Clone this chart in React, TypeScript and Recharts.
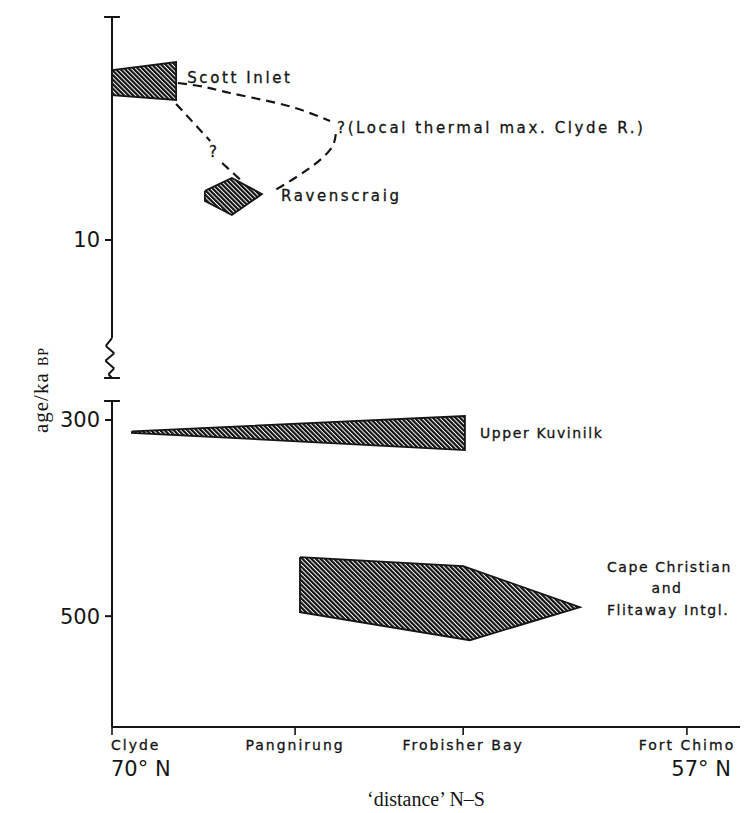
import React from "react";
import {
  ComposedChart,
  Label,
  ReferenceDot,
  ReferenceLine,
  Scatter,
  XAxis,
  YAxis,
} from "recharts";

interface Pt {
  readonly lat: number;
  readonly ka: number;
}

const pt = (lat: number, ka: number): Pt => ({ lat, ka });

const W = 755;
const H = 813;
const INK = "#151515";
const SANS = '"DejaVu Sans", "Liberation Sans", sans-serif';
const SERIF = '"Liberation Serif", "DejaVu Serif", serif';

// x: latitude along the N–S transect (°N), drawn reversed (north on the left)
const latDomain: [number, number] = [55.8, 70];
const stationLats = [70, 65.86, 62.06, 57];
const stationNames = ["Clyde", "Pangnirung", "Frobisher Bay", "Fort Chimo"];
const stationDegrees = ["70° N", "", "", "57° N"];

// y: broken age axis, two windows (ka BP)
const youngDomain: [number, number] = [0, 16.19];
const youngTicks = [10];
const oldDomain: [number, number] = [280.6, 613];
const oldTicks = [300, 500];

// hatched age ranges, closed outlines
const scottInlet = [pt(70, 2.38), pt(68.55, 2.02), pt(68.55, 3.72), pt(70, 3.5), pt(70, 2.38)];
const ravenscraig = [
  pt(67.9, 7.8), pt(67.29, 7.22), pt(66.61, 7.94), pt(67.29, 8.88), pt(67.9, 8.25), pt(67.9, 7.8),
];
const upperKuvinilk = [pt(69.55, 311.5), pt(62.02, 295.9), pt(62.02, 330.6), pt(69.55, 313.0), pt(69.55, 311.5)];
const capeChristian = [
  pt(65.75, 439.8), pt(62.06, 449), pt(59.42, 490.8), pt(61.91, 524.5), pt(65.75, 495.9), pt(65.75, 439.8),
];

// dashed (uncertain) correlations
const thermalMaxUpper = [pt(68.51, 2.96), pt(67.9, 3.14), pt(67.33, 3.41), pt(66.27, 3.86), pt(65.59, 4.26), pt(65.07, 4.66)];
const thermalMaxLower = [pt(64.94, 5.25), pt(65.07, 5.96), pt(65.59, 6.86), pt(66.31, 7.76)];
const scottToRavenA = [pt(68.55, 3.9), pt(67.78, 5.56)];
const scottToRavenB = [pt(67.51, 6.55), pt(67.04, 7.4)];

// axis break
const youngAxisRun = [pt(70, 0), pt(70, 14.4)];
const breakZigzag = [
  pt(70, 14.4), pt(70.14, 14.75), pt(69.95, 15.08), pt(70.15, 15.42), pt(69.95, 15.76), pt(70.08, 16.02), pt(70, 16.19),
];
const capHalfWidth = 0.18;

const upperNotes = [
  { lat: 68.3, ka: 2.74, text: "Scott Inlet", anchor: "start" },
  { lat: 67.69, ka: 6.05, text: "?", anchor: "middle" },
  { lat: 64.91, ka: 4.98, text: "?(Local thermal max. Clyde R.)", anchor: "start" },
  { lat: 66.18, ka: 8.03, text: "Ravenscraig", anchor: "start" },
];
const lowerNotes = [
  { lat: 61.68, ka: 313.3, text: "Upper Kuvinilk", anchor: "start" },
  { lat: 58.81, ka: 450.0, text: "Cape Christian", anchor: "start" },
  { lat: 57.45, ka: 471.4, text: "and", anchor: "middle" },
  { lat: 58.81, ka: 493.9, text: "Flitaway Intgl.", anchor: "start" },
];

const NoMark = () => <g />;

function noteShape(text: string, anchor: string, size: number, spacing: number) {
  return (props: { cx?: number; cy?: number }) => (
    <text
      x={props.cx}
      y={props.cy}
      dy="0.36em"
      textAnchor={anchor}
      fontFamily={SANS}
      fontSize={size}
      letterSpacing={spacing}
      fill={INK}
      stroke={INK}
      strokeWidth={0.3}
    >
      {text}
    </text>
  );
}

function StationTick(props: { x?: number; y?: number; payload?: { value: number } }) {
  const x = props.x ?? 0;
  const y = props.y ?? 0;
  const i = stationLats.findIndex((v) => Math.abs(v - (props.payload?.value ?? -1)) < 0.01);
  if (i < 0) return null;
  const first = i === 0;
  const last = i === stationLats.length - 1;
  return (
    <g>
      <text
        x={first ? x - 1 : x}
        y={y + 13}
        textAnchor={first ? "start" : "middle"}
        fontFamily={SANS}
        fontSize={14}
        letterSpacing={2}
        fill={INK}
        stroke={INK}
        strokeWidth={0.3}
      >
        {stationNames[i]}
      </text>
      {stationDegrees[i] && (
        <text
          x={first ? x - 1 : x + 44}
          y={y + 39}
          textAnchor={last ? "end" : "start"}
          fontFamily={SANS}
          fontSize={21}
          fill={INK}
        >
          {stationDegrees[i]}
        </text>
      )}
    </g>
  );
}

function AgeLabel(props: { viewBox?: { x: number; y: number; width: number; height: number } }) {
  const vb = props.viewBox ?? { x: 32, y: 17, width: 80, height: 361 };
  const cx = vb.x + 16;
  const cy = vb.y + vb.height + 12;
  return (
    <text
      x={cx}
      y={cy}
      transform={`rotate(-90 ${cx} ${cy})`}
      textAnchor="middle"
      fontFamily={SERIF}
      fontSize={21}
      letterSpacing={1}
      fill={INK}
    >
      age/ka <tspan fontSize={14} letterSpacing={1}>BP</tspan>
    </text>
  );
}

function Hatch({ id }: { id: string }) {
  return (
    <defs>
      <pattern id={id} width={3.2} height={10} patternUnits="userSpaceOnUse" patternTransform="rotate(-45)">
        <rect width={3.2} height={10} fill="#fff" />
        <line x1={1.1} y1={0} x2={1.1} y2={10} stroke="#111" strokeWidth={2.2} />
      </pattern>
    </defs>
  );
}

function polygon(data: Pt[], fill: string, key: string) {
  return (
    <Scatter
      key={key}
      data={data}
      shape={NoMark}
      line={{ stroke: INK, strokeWidth: 1.8, fill, strokeLinejoin: "miter" }}
      lineType="joint"
      isAnimationActive={false}
    />
  );
}

function dashed(data: Pt[], key: string, curve = "linear") {
  return (
    <Scatter
      key={key}
      data={data}
      shape={NoMark}
      line={{ stroke: INK, strokeWidth: 2.2, strokeDasharray: "9 6", fill: "none" }}
      lineType="joint"
      lineJointType={curve as "linear"}
      isAnimationActive={false}
    />
  );
}

function segment(a: Pt, b: Pt, key: string) {
  return (
    <ReferenceLine
      key={key}
      segment={[{ x: a.lat, y: a.ka }, { x: b.lat, y: b.ka }]}
      stroke={INK}
      strokeWidth={2}
      ifOverflow="visible"
    />
  );
}

function cap(ka: number, key: string) {
  return segment(pt(70 + capHalfWidth, ka), pt(70 - capHalfWidth, ka), key);
}

const axisTick = { fill: INK, fontSize: 21, fontFamily: SANS };

export default function App() {
  return (
    <div style={{ position: "absolute", left: 0, top: 0, width: W, height: H, background: "#fff" }}>
      <div style={{ position: "absolute", left: 0, top: 0 }}>
        <ComposedChart width={W} height={H} margin={{ top: 401, right: 15, bottom: 0, left: 32 }}>
          <Hatch id="hatchOld" />
          <XAxis
            dataKey="lat"
            type="number"
            domain={latDomain}
            reversed
            ticks={stationLats}
            interval={0}
            height={86}
            tickSize={8}
            tick={<StationTick />}
            axisLine={{ stroke: INK, strokeWidth: 2 }}
            tickLine={{ stroke: INK, strokeWidth: 1.6 }}
          >
            <Label
              value="‘distance’ N–S"
              position="insideBottom"
              offset={7}
              style={{ fontFamily: SERIF, fontSize: 20, fill: INK }}
            />
          </XAxis>
          <YAxis
            dataKey="ka"
            type="number"
            domain={oldDomain}
            reversed
            ticks={oldTicks}
            width={80}
            tickSize={7}
            tickMargin={5}
            tick={axisTick}
            axisLine={{ stroke: INK, strokeWidth: 2 }}
            tickLine={{ stroke: INK, strokeWidth: 2 }}
          />
          {cap(oldDomain[0], "capOld")}
          {polygon(upperKuvinilk, "url(#hatchOld)", "kuv")}
          {polygon(capeChristian, "url(#hatchOld)", "cape")}
          {lowerNotes.map((n) => (
            <ReferenceDot
              key={n.text}
              x={n.lat}
              y={n.ka}
              r={0}
              shape={noteShape(n.text, n.anchor, 14, 1.6)}
            />
          ))}
        </ComposedChart>
      </div>
      <div style={{ position: "absolute", left: 0, top: 0 }}>
        <ComposedChart width={W} height={H} margin={{ top: 17, right: 15, bottom: 435, left: 32 }}>
          <Hatch id="hatchYoung" />
          <XAxis dataKey="lat" type="number" domain={latDomain} reversed hide height={0} />
          <YAxis
            dataKey="ka"
            type="number"
            domain={youngDomain}
            reversed
            ticks={youngTicks}
            width={80}
            tickSize={7}
            tickMargin={5}
            tick={axisTick}
            axisLine={false}
            tickLine={{ stroke: INK, strokeWidth: 2 }}
          >
            <Label content={AgeLabel} />
          </YAxis>
          {segment(youngAxisRun[0], youngAxisRun[1], "run")}
          {breakZigzag.slice(1).map((b, i) => segment(breakZigzag[i], b, `zz${i}`))}
          {cap(youngDomain[0], "capTop")}
          {cap(youngDomain[1], "capBreak")}
          {polygon(scottInlet, "url(#hatchYoung)", "scott")}
          {polygon(ravenscraig, "url(#hatchYoung)", "raven")}
          {dashed(thermalMaxUpper, "tmU", "natural")}
          {dashed(thermalMaxLower, "tmL", "natural")}
          {dashed(scottToRavenA, "srA")}
          {dashed(scottToRavenB, "srB")}
          {upperNotes.map((n) => (
            <ReferenceDot
              key={n.text}
              x={n.lat}
              y={n.ka}
              r={0}
              shape={noteShape(n.text, n.anchor, 15, 2.6)}
            />
          ))}
        </ComposedChart>
      </div>
    </div>
  );
}
